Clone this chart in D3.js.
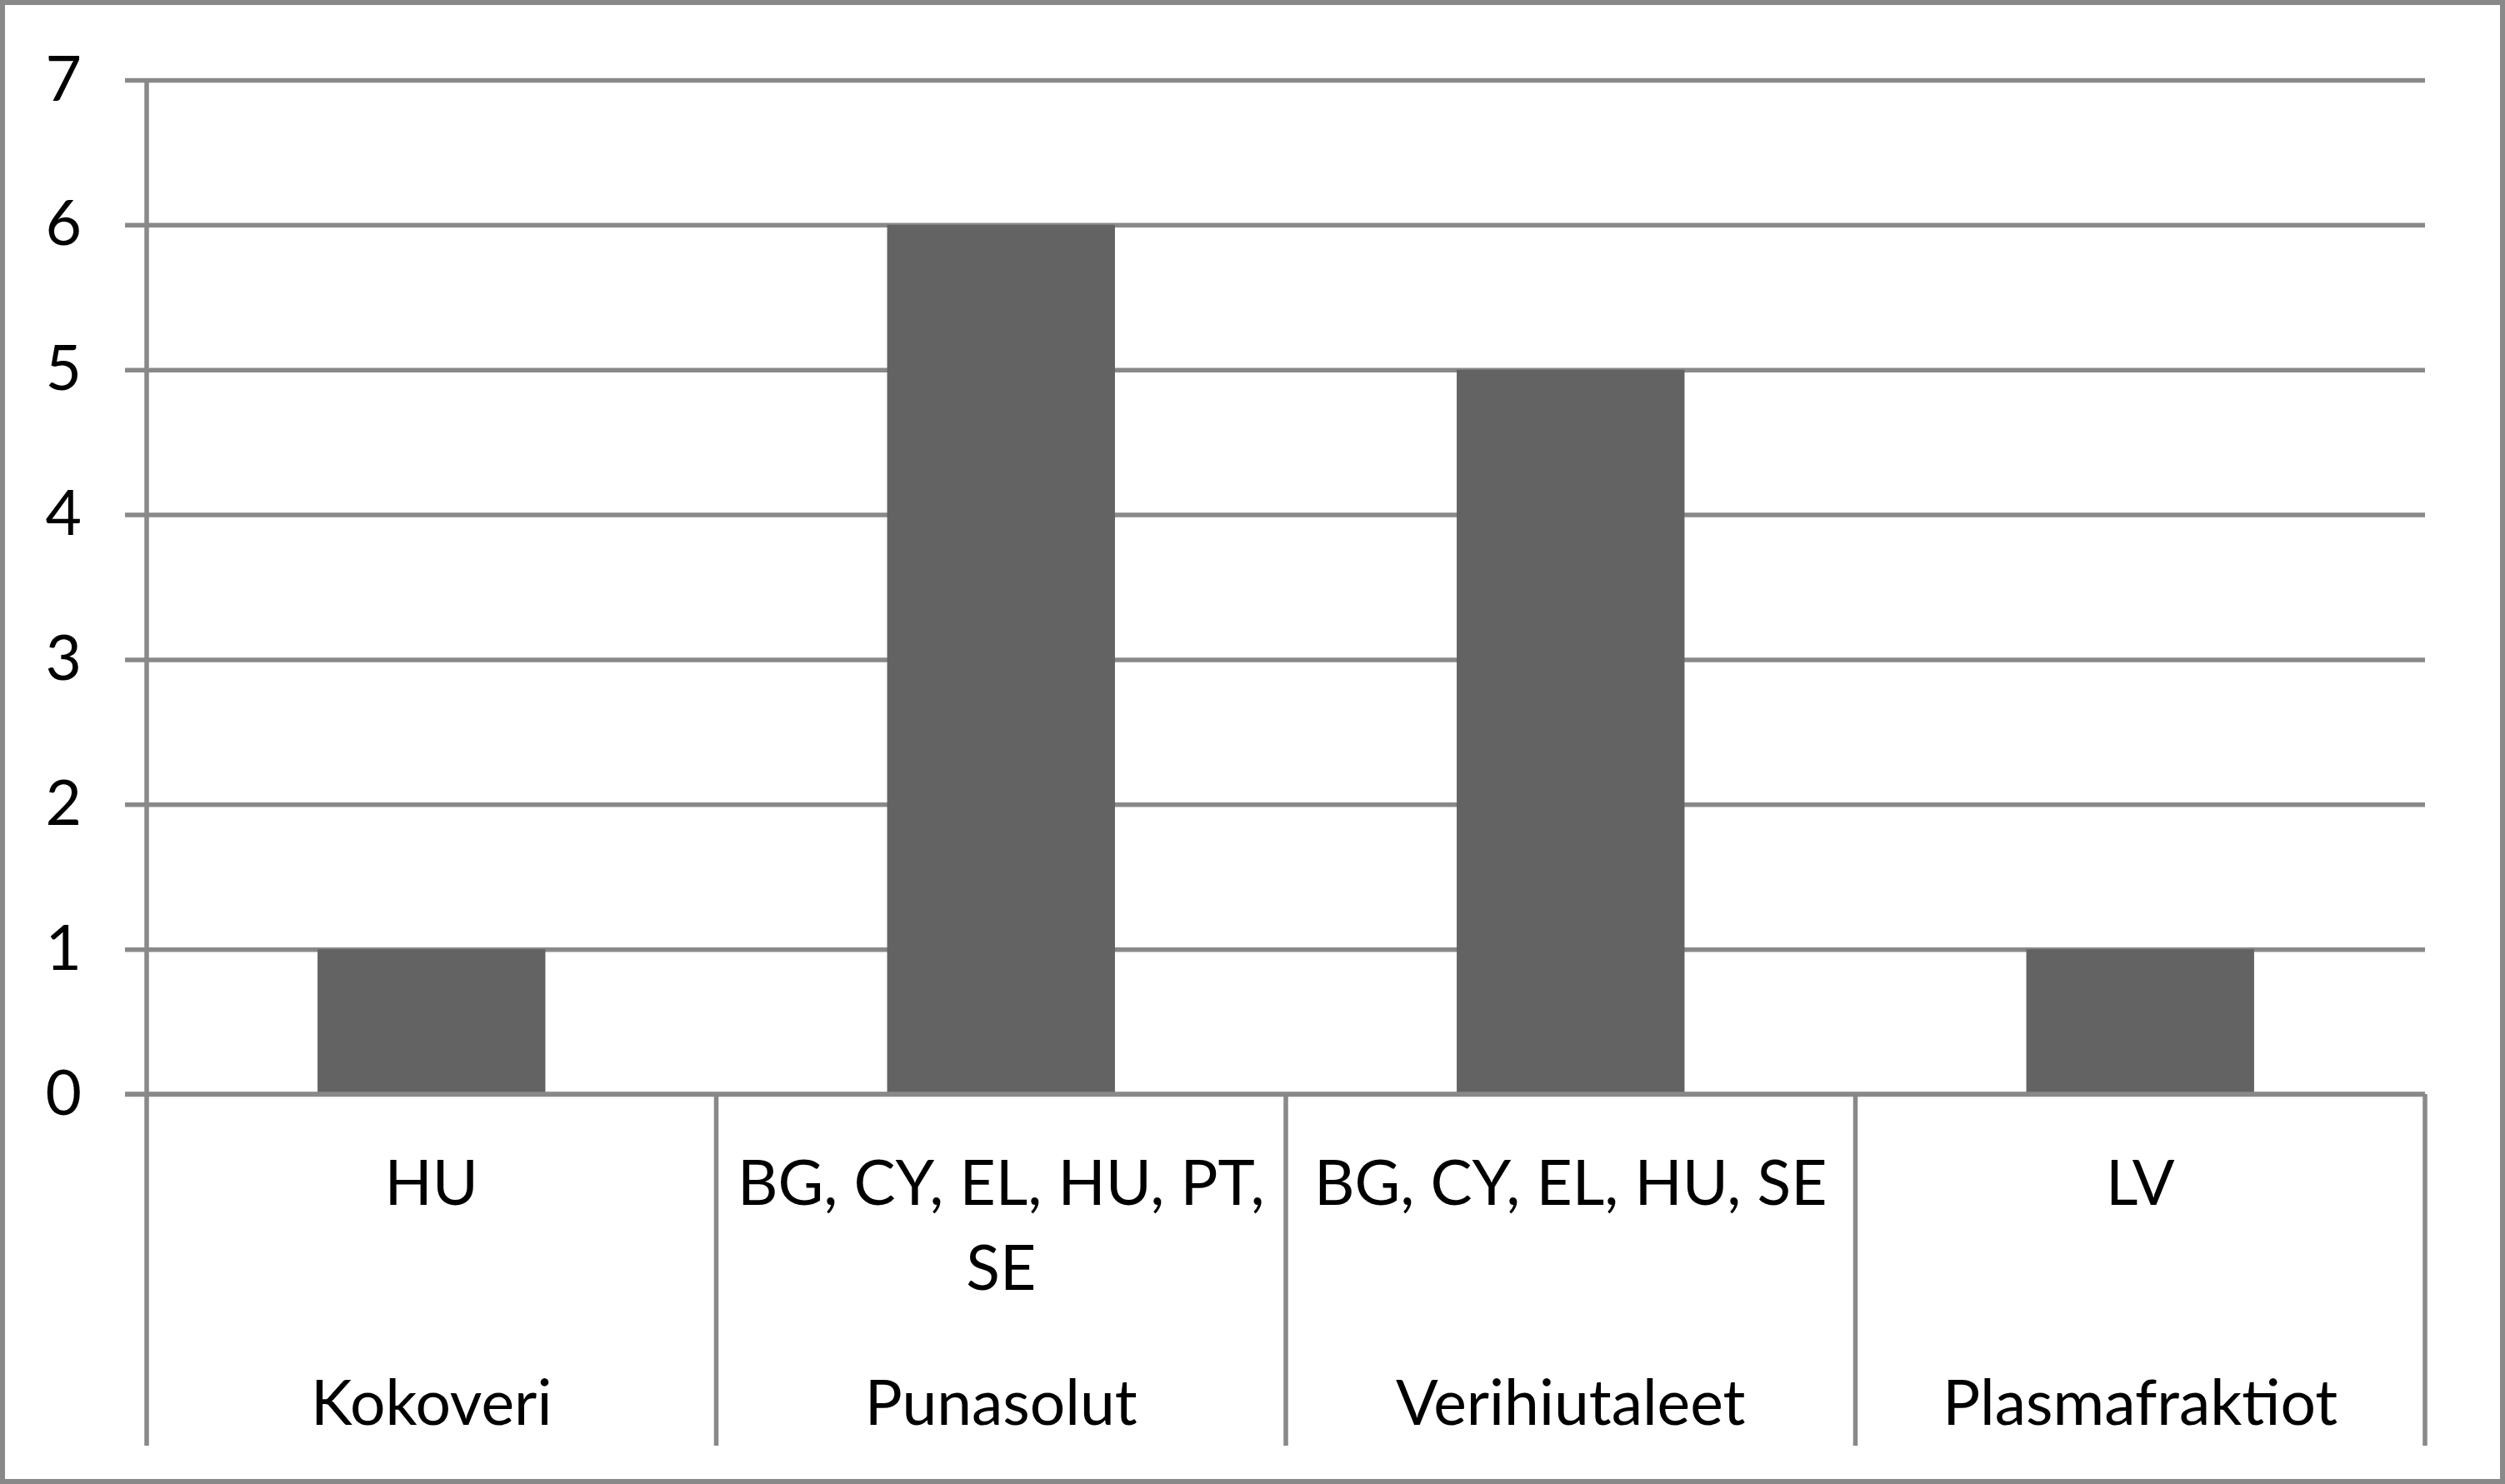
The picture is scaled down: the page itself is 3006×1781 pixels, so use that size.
<!DOCTYPE html>
<html>
<head>
<meta charset="utf-8">
<script src="https://cdn.jsdelivr.net/npm/d3@7"></script>
<style>
  html, body { margin: 0; padding: 0; background: #fff; }
  svg { display: block; }
  text { font-family: Lato, "Open Sans", sans-serif; fill: #000; }
</style>
</head>
<body>
<script>
// chart data
var categories = ["Kokoveri", "Punasolut", "Verihiutaleet", "Plasmafraktiot"];
var countryLines = [["HU"], ["BG, CY, EL, HU, PT,", "SE"], ["BG, CY, EL, HU, SE"], ["LV"]];
var values = [1, 6, 5, 1];
var yTicks = [0, 1, 2, 3, 4, 5, 6, 7];

var width = 3006, height = 1781;
var gridColor = "#898989";
var barColor = "#636363";
var lineW = 5.5;
var fontSize = 75;

var svg = d3.select("body").append("svg")
  .attr("width", width).attr("height", height);

// outer frame
svg.append("rect")
  .attr("x", 3).attr("y", 3)
  .attr("width", width - 6).attr("height", height - 6)
  .attr("fill", "#fff")
  .attr("stroke", gridColor)
  .attr("stroke-width", 6);

var plotLeft = 176, plotRight = 2910;
var tickLeft = 150;
var axisBottom = 1735;

var y = d3.scaleLinear().domain([0, 7]).range([1313, 96]);
var x = d3.scaleBand().domain(categories).range([plotLeft, plotRight]).padding(0);

// gridlines + y labels
var yAxis = d3.axisLeft(y)
  .tickValues(yTicks)
  .tickSize(-(plotRight - tickLeft))
  .tickPadding(52)
  .tickFormat(d3.format("d"));

var gy = svg.append("g")
  .attr("transform", "translate(" + tickLeft + ",0)")
  .call(yAxis);
gy.select(".domain").remove();
gy.selectAll(".tick line")
  .attr("stroke", gridColor)
  .attr("stroke-width", lineW);
gy.selectAll(".tick text")
  .attr("font-size", fontSize)
  .attr("dy", "0.32em")
  .attr("font-family", "Lato, sans-serif");

// bars
var barW = x.bandwidth() * 0.4;
svg.selectAll("rect.bar")
  .data(values)
  .enter().append("rect")
  .attr("class", "bar")
  .attr("fill", barColor)
  .attr("x", function (d, i) { return x(categories[i]) + (x.bandwidth() - barW) / 2; })
  .attr("width", barW)
  .attr("y", function (d) { return y(d); })
  .attr("height", function (d) { return y(0) - y(d); });

// zero line on top of bars
svg.append("line")
  .attr("x1", tickLeft).attr("x2", plotRight)
  .attr("y1", y(0)).attr("y2", y(0))
  .attr("stroke", gridColor).attr("stroke-width", lineW);

// y axis line
svg.append("line")
  .attr("x1", plotLeft).attr("x2", plotLeft)
  .attr("y1", y(7)).attr("y2", axisBottom)
  .attr("stroke", gridColor).attr("stroke-width", lineW);

// category dividers
var bounds = categories.map(function (c) { return x(c) + x.bandwidth(); });
svg.selectAll("line.div")
  .data(bounds)
  .enter().append("line")
  .attr("class", "div")
  .attr("x1", function (d) { return d; })
  .attr("x2", function (d) { return d; })
  .attr("y1", y(0)).attr("y2", axisBottom)
  .attr("stroke", gridColor).attr("stroke-width", lineW);

// country labels (first level)
var firstBase = 1446, lineGap = 102;
svg.selectAll("text.cty")
  .data(countryLines)
  .enter().append("text")
  .attr("class", "cty")
  .attr("text-anchor", "middle")
  .attr("font-size", fontSize)
  .each(function (lines, i) {
    d3.select(this).selectAll("tspan")
      .data(lines).enter().append("tspan")
      .attr("x", x(categories[i]) + x.bandwidth() / 2)
      .attr("y", function (d, j) { return firstBase + j * lineGap; })
      .text(function (d) { return d; });
  });

// category labels (second level)
svg.selectAll("text.cat")
  .data(categories)
  .enter().append("text")
  .attr("class", "cat")
  .attr("text-anchor", "middle")
  .attr("font-size", fontSize)
  .attr("x", function (d) { return x(d) + x.bandwidth() / 2; })
  .attr("y", 1710)
  .text(function (d) { return d; });
</script>
</body>
</html>
